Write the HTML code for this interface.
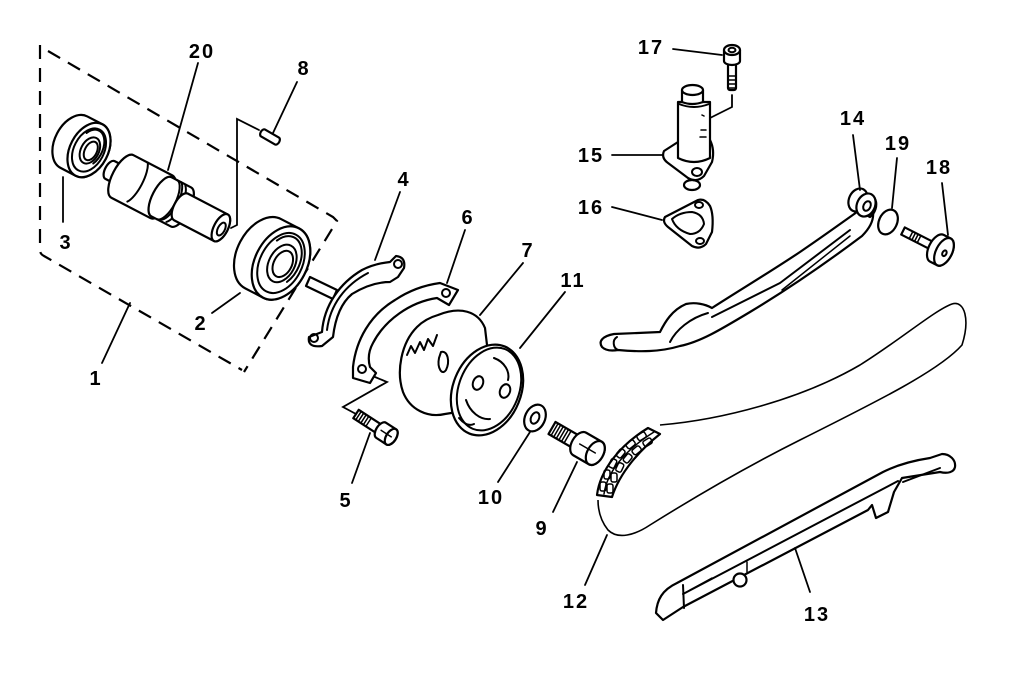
<!DOCTYPE html>
<html><head><meta charset="utf-8"><style>
html,body{margin:0;padding:0;background:#fff;}
svg{display:block;}
text{font-family:"Liberation Sans",Arial,sans-serif;font-weight:bold;font-size:20px;letter-spacing:2px;fill:#000;text-anchor:middle;}
.s{fill:#fff;stroke:#000;stroke-width:2.2;stroke-linejoin:round;stroke-linecap:round;}
.n{fill:none;stroke:#000;stroke-width:2;stroke-linecap:round;stroke-linejoin:round;}
.l{fill:none;stroke:#000;stroke-width:1.8;stroke-linecap:round;}
.t{fill:none;stroke:#000;stroke-width:1.5;stroke-linecap:round;}
</style></head><body>
<svg width="1024" height="696" viewBox="0 0 1024 696" xmlns="http://www.w3.org/2000/svg">
<rect width="1024" height="696" fill="#fff"/>

<!-- dashed box -->
<path d="M48,51 L333,217 L337,221 L244,372" fill="none" stroke="#000" stroke-width="2.2" stroke-dasharray="14,9"/>
<path d="M40,45 L40,250 Q40,254 44,256 L242,370" fill="none" stroke="#000" stroke-width="2.2" stroke-dasharray="14,9"/>

<!-- bearing 3 -->
<g transform="translate(89,150) rotate(27.5)">
<path class="s" d="M-17,-29 L0,-29 A19,29 0 0 1 0,29 L-17,29 A19,29 0 0 1 -17,-29 Z"/>
<ellipse class="s" cx="0" cy="0" rx="19" ry="29"/>
<ellipse class="n" cx="0" cy="0" rx="15" ry="23"/>
<path class="n" d="M-10,-14 A12,19 0 0 1 10,10"/>
<ellipse class="n" cx="1" cy="0" rx="9" ry="14"/>
<ellipse class="n" cx="2" cy="0" rx="6" ry="10"/>
</g>

<!-- camshaft 20 -->
<g transform="translate(110,170) rotate(27.5)">
<path class="s" d="M0,-10 L16,-10 A5,10 0 0 1 16,10 L0,10 A5,10 0 0 1 0,-10 Z"/>
<path class="s" d="M14,-24 L58,-24 A10,24 0 0 1 58,24 L14,24 A10,24 0 0 1 14,-24 Z"/>
<path class="n" d="M30,-24 A8,24 0 0 1 30,20"/>
<path class="s" d="M58,-22 L80,-22 A9,22 0 0 1 80,22 L58,22 A9,22 0 0 1 58,-22 Z"/>
<path class="n" d="M64,-22 A9,22 0 0 1 64,22"/>
<path class="n" d="M69,-22 A9,22 0 0 1 69,20"/>
<path class="n" d="M74,-21 A9,22 0 0 1 74,20"/>
<path class="s" d="M80,-15 L125,-15 A7,15 0 0 1 125,15 L80,15 A7,15 0 0 1 80,-15 Z"/>
<ellipse class="s" cx="125" cy="0" rx="7" ry="15"/>
<ellipse class="n" cx="126" cy="1" rx="3.5" ry="7"/>
</g>

<!-- pin 8 -->
<g transform="translate(270,137) rotate(30)">
<path class="s" d="M-8,-4 L8,-4 A2.5,4 0 0 1 8,4 L-8,4 A2.5,4 0 0 1 -8,-4 Z"/>
</g>
<path class="l" d="M259,130 L237,119 L237,225 L231,228"/>

<!-- bearing 2 -->
<g transform="translate(281,263) rotate(27.5)">
<path class="s" d="M-20,-39 L0,-39 A26,39 0 0 1 0,39 L-20,39 A26,39 0 0 1 -20,-39 Z"/>
<ellipse class="s" cx="0" cy="0" rx="26" ry="39"/>
<ellipse class="n" cx="0" cy="0" rx="21" ry="32"/>
<path class="n" d="M-14,-18 A17,26 0 0 1 14,14"/>
<ellipse class="n" cx="1" cy="0" rx="13" ry="20"/>
<ellipse class="n" cx="2" cy="0" rx="9" ry="14"/>
</g>

<!-- part 4 stub + bracket -->
<polygon class="s" points="310,277 337,290 333,299 306,286"/>
<path class="s" d="M322,332 C324,305 340,283 362,270 C372,265 380,263 390,262 L396,256 Q406,257 404,268 L398,277 L390,282 C378,282 365,286 352,294 C340,304 335,320 333,337 L322,346 Q307,348 309,337 Z"/>
<path class="n" d="M327,330 C330,305 345,285 368,273"/>
<circle class="n" cx="314" cy="338" r="4"/>
<circle class="n" cx="398" cy="264" r="4"/>

<!-- part 6 -->
<path class="s" d="M353,367 C356,340 370,315 395,300 C410,290 425,285 440,283 L458,290 L449,305 L437,298 C410,302 385,320 373,343 C368,352 368,360 370,367 L376,373 L370,383 L353,378 Z"/>
<circle class="n" cx="362" cy="369" r="4"/>
<circle class="n" cx="446" cy="293" r="4"/>

<!-- bolt 5 -->
<g transform="translate(356,414) rotate(33)">
<rect class="s" x="0" y="-5" width="32" height="10"/>
<path class="t" d="M3,-5 L3,5 M6,-5 L6,5 M9,-5 L9,5 M12,-5 L12,5 M15,-5 L15,5"/>
<path class="s" d="M30,-9 L42,-9 A5,9 0 0 1 42,9 L30,9 A5,9 0 0 1 30,-9 Z"/>
<ellipse class="s" cx="42" cy="0" rx="5" ry="9"/>
<path class="t" d="M30,0 L42,0"/>
</g>
<path class="l" d="M356,414 L343,407 L387,382 L375,377"/>

<!-- drum 7 -->
<path class="s" d="M438,315 C460,306 478,311 485,328 L487,345 L470,410 L445,414 C428,418 410,410 403,392 C396,372 401,343 417,327 C424,320 431,317 438,315 Z"/>
<polyline class="n" points="407,355 411,346 415,353 420,342 424,350 428,339 433,346 437,335"/>
<path class="n" d="M441,352 C448,350 450,362 446,370 C442,376 437,368 439,358 Z"/>

<!-- plate 11 -->
<ellipse class="s" cx="487" cy="390" rx="34" ry="47" transform="rotate(22 487 390)"/>
<ellipse class="n" cx="489" cy="389" rx="30" ry="43" transform="rotate(22 489 389)"/>
<ellipse class="n" cx="478" cy="383" rx="5" ry="7" transform="rotate(20 478 383)"/>
<ellipse class="n" cx="505" cy="391" rx="5" ry="7" transform="rotate(20 505 391)"/>
<path class="n" d="M494,358 C505,362 510,372 508,380"/>
<path class="n" d="M466,400 C470,412 480,420 490,419"/>
<path class="n" d="M459,418 C465,425 470,426 474,424"/>

<!-- washer 10 -->
<ellipse class="s" cx="535" cy="418" rx="10" ry="14" transform="rotate(25 535 418)"/>
<ellipse class="n" cx="535" cy="418" rx="4" ry="6" transform="rotate(25 535 418)"/>

<!-- bolt 9 -->
<g transform="translate(552,428) rotate(30)">
<rect class="s" x="0" y="-7" width="34" height="14"/>
<path class="t" d="M3,-7 L3,7 M6,-7 L6,7 M9,-7 L9,7 M12,-7 L12,7 M15,-7 L15,7 M18,-7 L18,7"/>
<path class="s" d="M32,-13 L50,-13 A8,13 0 0 1 50,13 L32,13 A8,13 0 0 1 32,-13 Z"/>
<ellipse class="s" cx="50" cy="0" rx="8" ry="13"/>
<path class="t" d="M32,0 L50,0"/>
</g>

<!-- chain 12 -->
<path fill="none" stroke="#000" stroke-width="1.6" d="M660,425 C720,420 800,400 860,365 C900,340 935,310 952,304 C965,300 970,320 962,345 C940,370 880,400 800,440 C740,470 690,500 650,525 C635,535 618,540 608,530 C600,520 598,510 598,500"/>
<path class="s" d="M597,495 C600,470 620,445 648,428 L660,434 C640,450 620,472 612,497 Z"/>
<path class="t" d="M604,494 C607,472 625,450 654,432"/>
<g class="t">
<rect x="600" y="482" width="6" height="9" rx="2"/>
<rect x="607" y="484" width="6" height="9" rx="2"/>
<rect x="604" y="470" width="6" height="9" rx="2"/>
<rect x="611" y="473" width="6" height="9" rx="2"/>
<rect x="610" y="459" width="6" height="9" rx="2" transform="rotate(25 613 463)"/>
<rect x="617" y="463" width="6" height="9" rx="2" transform="rotate(25 620 467)"/>
<rect x="618" y="449" width="6" height="9" rx="2" transform="rotate(40 621 453)"/>
<rect x="625" y="454" width="6" height="9" rx="2" transform="rotate(40 628 458)"/>
<rect x="628" y="440" width="6" height="9" rx="2" transform="rotate(50 631 444)"/>
<rect x="634" y="446" width="6" height="9" rx="2" transform="rotate(50 637 450)"/>
<rect x="639" y="432" width="6" height="9" rx="2" transform="rotate(58 642 436)"/>
<rect x="645" y="438" width="6" height="9" rx="2" transform="rotate(58 648 442)"/>
</g>

<!-- guide 13 -->
<path class="s" d="M677,583 L883,472 C895,466 910,461 930,458 L942,454 C950,454 956,460 955,467 C954,472 948,474 940,472 L902,478 L894,492 L888,512 L876,518 L872,505 L868,510 L683,607 L663,620 L656,613 C657,600 662,590 677,583 Z"/>
<path class="n" d="M683,594 L898,481"/>
<path class="n" d="M903,482 L940,468"/>
<path class="n" d="M683,585 L684,608"/>
<path class="t" d="M690,590 L712,578"/>
<circle class="s" cx="740" cy="580" r="6.5"/>
<path class="t" d="M747,562 L747,572"/>

<!-- guide 14 -->
<path class="s" d="M857,212 C840,224 825,235 800,252 C770,272 740,290 712,308 C705,304 695,302 686,304 C672,310 665,322 660,332 L614,334 C603,336 598,341 602,347 C606,351 612,351 618,350 C640,352 660,352 680,346 C700,342 720,330 750,312 C790,288 830,260 862,236 C870,228 874,220 873,212 Z"/>
<path class="n" d="M670,342 C676,330 690,318 708,313"/>
<path class="n" d="M712,317 L780,283 L850,230"/>
<path class="t" d="M782,290 L850,236"/>
<path class="n" d="M617,337 C612,340 613,348 618,350"/>
<path class="s" d="M853,192 L862,197 A9,12 25 0 1 870,217 L862,213 Z"/>
<ellipse class="s" cx="858" cy="200" rx="9" ry="12" transform="rotate(25 858 200)"/>
<ellipse class="s" cx="866" cy="205" rx="9" ry="12" transform="rotate(25 866 205)"/>
<ellipse class="n" cx="867" cy="206" rx="3.5" ry="5" transform="rotate(25 867 206)"/>

<!-- washer 19 -->
<ellipse class="s" cx="888" cy="222" rx="9" ry="13" transform="rotate(25 888 222)"/>

<!-- bolt 18 -->
<g transform="translate(903,231) rotate(27)">
<rect class="s" x="0" y="-4" width="38" height="8"/>
<path class="t" d="M9,-4 L9,4 M12,-4 L12,4 M15,-4 L15,4 M18,-4 L18,4"/>
<path class="s" d="M38,-15 L46,-15 A8,15 0 0 1 46,15 L38,15 A8,15 0 0 1 38,-15 Z"/>
<ellipse class="s" cx="46" cy="0" rx="8" ry="15"/>
<ellipse class="n" cx="47" cy="1" rx="2" ry="3"/>
</g>

<!-- bolt 17 -->
<rect class="s" x="728" y="60" width="8" height="30" rx="2"/>
<path class="t" d="M728,76 L736,76 M728,80 L736,80 M728,84 L736,84 M728,88 L736,88"/>
<path class="s" d="M724,50 L724,61 A8,4 0 0 0 740,61 L740,50 Z"/>
<ellipse class="s" cx="732" cy="50" rx="8" ry="5"/>
<ellipse class="n" cx="732" cy="50" rx="3.5" ry="2.2"/>
<path class="l" d="M732,95 L732,107 L710,118"/>

<!-- tensioner 15 -->
<ellipse class="s" cx="692" cy="185" rx="8" ry="5"/>
<path class="s" d="M678,142 L664,151 Q661,158 668,163 L688,178 Q697,183 704,176 L712,162 Q715,150 710,140 Z"/>
<ellipse class="n" cx="697" cy="172" rx="5" ry="4"/>
<path class="s" d="M678,102 L678,158 Q694,166 710,158 L710,102 Z"/>
<path class="s" d="M682,90 L682,102 Q692,106 703,102 L703,90 Z"/>
<ellipse class="s" cx="692.5" cy="90" rx="10.5" ry="5"/>
<path class="n" d="M679,104 Q694,110 709,104"/>
<path class="t" d="M702,115 L704,116 M701,130 L706,130 M700,137 L706,137"/>

<!-- gasket 16 -->
<path class="s" d="M665,217 Q662,222 668,227 L692,246 Q700,250 706,244 L712,232 Q714,215 710,206 Q705,198 698,200 Z"/>
<path class="n" d="M672,219 Q680,212 692,212 Q703,214 704,224 Q700,234 690,234 Q676,230 672,219 Z"/>
<ellipse class="n" cx="699" cy="205" rx="4" ry="3"/>
<ellipse class="n" cx="700" cy="241" rx="4" ry="3"/>

<!-- leaders -->
<g class="l">
<path d="M102,363 L130,303"/>
<path d="M212,313 L240,293"/>
<path d="M63,177 L63,222"/>
<path d="M400,192 L375,260"/>
<path d="M352,483 L370,433"/>
<path d="M465,230 L447,283"/>
<path d="M523,263 L480,315"/>
<path d="M297,82 L273,133"/>
<path d="M553,512 L577,462"/>
<path d="M498,482 L530,432"/>
<path d="M565,292 L520,348"/>
<path d="M585,585 L607,535"/>
<path d="M810,592 L795,548"/>
<path d="M853,135 L860,190"/>
<path d="M612,155 L662,155"/>
<path d="M612,207 L662,220"/>
<path d="M673,49 L722,55"/>
<path d="M942,183 L948,235"/>
<path d="M897,158 L892,208"/>
<path d="M198,63 L168,170"/>
</g>

<!-- labels -->
<text x="96" y="385">1</text>
<text x="201" y="330">2</text>
<text x="66" y="249">3</text>
<text x="404" y="186">4</text>
<text x="346" y="507">5</text>
<text x="468" y="224">6</text>
<text x="528" y="257">7</text>
<text x="304" y="75">8</text>
<text x="542" y="535">9</text>
<text x="491" y="504">10</text>
<text x="573" y="287">11</text>
<text x="576" y="608">12</text>
<text x="817" y="621">13</text>
<text x="853" y="125">14</text>
<text x="591" y="162">15</text>
<text x="591" y="214">16</text>
<text x="651" y="54">17</text>
<text x="939" y="174">18</text>
<text x="898" y="150">19</text>
<text x="202" y="58">20</text>
</svg>
</body></html>
